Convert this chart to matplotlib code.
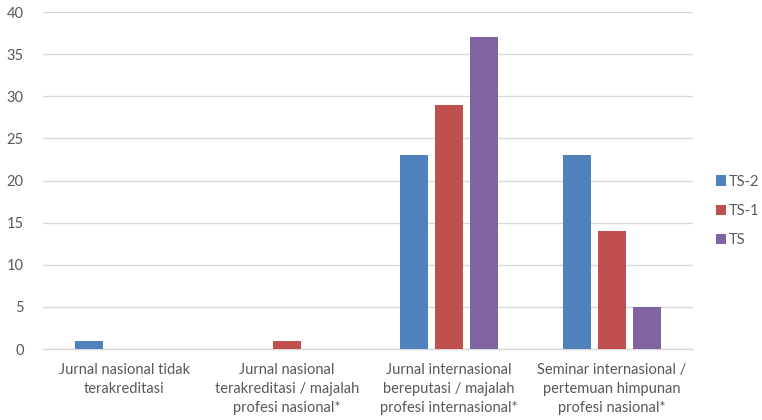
import numpy as np
import matplotlib.pyplot as plt

categories = [
    "Jurnal nasional tidak\nterakreditasi",
    "Jurnal nasional\nterakreditasi / majalah\nprofesi nasional*",
    "Jurnal internasional\nbereputasi / majalah\nprofesi internasional*",
    "Seminar internasional /\npertemuan himpunan\nprofesi nasional*",
]
series_names = ["TS-2", "TS-1", "TS"]
ts2 = [1, 0, 23, 23]
ts1 = [0, 1, 29, 14]
ts = [0, 0, 37, 5]
colors = ["#4f81bd", "#c0504d", "#8064a2"]
yticks = [0, 5, 10, 15, 20, 25, 30, 35, 40]

TEXT = "#595959"
GRID = "#d9d9d9"
plt.rcParams["font.family"] = ["Lato", "DejaVu Sans"]

fig = plt.figure(figsize=(7.62, 4.2), dpi=100)
ax = fig.add_axes([0.0564, 0.169, 0.853, 0.8024])

x = np.arange(len(categories))
width = 0.172
step = 0.215
for i, (vals, name, c) in enumerate(zip([ts2, ts1, ts], series_names, colors)):
    ax.bar(x + (i - 1) * step, vals, width, color=c, label=name, zorder=3)

ax.set_xlim(-0.5, len(categories) - 0.5)
ax.set_ylim(0, 40)
ax.set_yticks(yticks)
ax.set_yticklabels([str(v) for v in yticks], fontsize=10.5, color=TEXT)
ax.set_xticks(x)
ax.set_xticklabels(categories, fontsize=10.5, color=TEXT, linespacing=1.45)
ax.tick_params(axis="both", length=0)
ax.tick_params(axis="y", pad=14)
ax.tick_params(axis="x", pad=10)
ax.yaxis.grid(True, color=GRID, linewidth=1, zorder=0)
for s in ["top", "right", "left"]:
    ax.spines[s].set_visible(False)
ax.spines["bottom"].set_color(GRID)
ax.spines["bottom"].set_linewidth(1)

leg = ax.legend(loc="center left", bbox_to_anchor=(0.939, 0.498),
                bbox_transform=fig.transFigure, frameon=False,
                fontsize=10.5, handlelength=0.7, handleheight=0.7,
                handletextpad=0.2, labelspacing=1.05, borderpad=0,
                borderaxespad=0)
for t in leg.get_texts():
    t.set_color(TEXT)

fig.savefig("out.png", dpi=100)
